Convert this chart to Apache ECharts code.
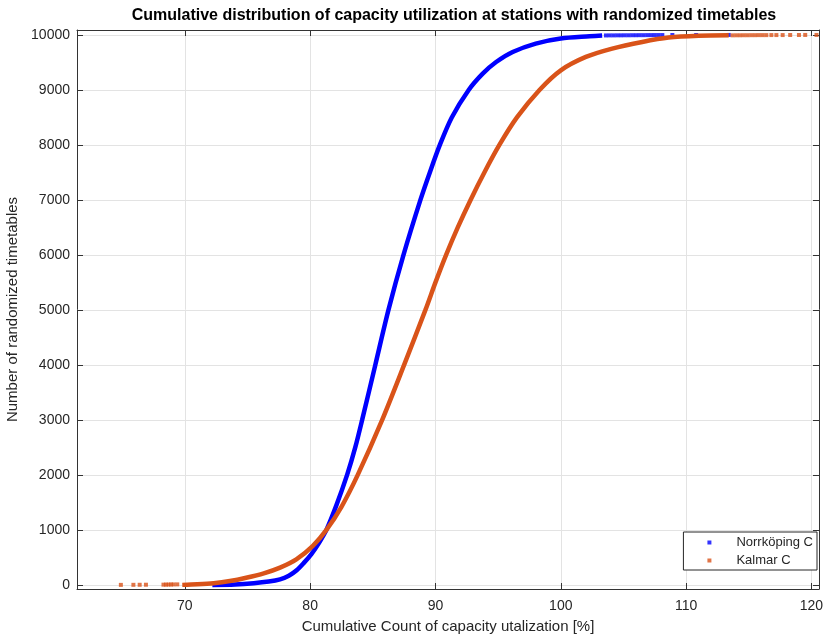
<!DOCTYPE html>
<html>
<head>
<meta charset="utf-8">
<script src="https://cdn.jsdelivr.net/npm/echarts@6/dist/echarts.min.js"></script>
<style>
    html, body { margin: 0; padding: 0; background: #fff; }
    #chart { width: 824px; height: 635px; }
</style>
</head>
<body>
<div id="chart"></div>
<script>
// Norrköping C - sorted utilization vs cumulative count
const norrX = [72.2, 74.0, 75.5, 76.7, 77.6, 78.3, 78.9, 79.5, 80.1, 80.7, 81.3, 82.1, 82.95, 83.6, 84.15, 85.2, 86.25, 87.45, 88.8, 89.55, 90.35, 91.3, 92.65, 93.77, 94.84, 96.16, 98.0, 100.0, 102.3, 103.3];
const norrY = [0, 8, 30, 60, 100, 165, 260, 400, 560, 760, 1000, 1450, 2000, 2500, 3000, 4000, 5000, 6000, 7000, 7500, 8000, 8500, 9000, 9297, 9508, 9690, 9843, 9934, 9975, 9990];
// sparse tail dots
const norrTailX = [103.6, 103.9, 104.2, 104.5, 104.8, 105.1, 105.4, 105.7, 106.0, 106.3, 106.6, 106.9, 107.2, 107.5, 107.8, 108.1, 108.9, 110.8, 113.4];
const norrTailY = [9991, 9992, 9992, 9993, 9993, 9994, 9994, 9995, 9995, 9996, 9996, 9997, 9997, 9998, 9998, 9998, 9999, 9999, 10000];

// Kalmar C
const kalX = [69.8, 71.0, 72.3, 73.6, 74.9, 76.3, 77.6, 78.9, 80.2, 81.3, 82.5, 83.8, 85.75, 87.5, 89.2, 90.0, 90.85, 91.78, 92.8, 93.9, 95.1, 96.5, 98.3, 100.0, 102.0, 104.1, 106.5, 108.6, 111.0, 113.4];
const kalY = [0, 10, 30, 70, 130, 210, 314, 465, 706, 1000, 1420, 2000, 3000, 4000, 5000, 5500, 6000, 6500, 7000, 7500, 8000, 8500, 9000, 9357, 9600, 9752, 9873, 9952, 9985, 9993];
const kalLowX = [64.9, 65.9, 66.4, 66.9, 68.3, 68.5, 68.7, 68.9, 69.1, 69.4];
const kalLowY = [0, 1, 2, 3, 4, 5, 6, 7, 8, 9];
const kalTailX = [113.7, 114.0, 114.3, 114.6, 114.9, 115.2, 115.5, 115.8, 116.1, 116.4, 116.8, 117.2, 117.7, 118.3, 119.0, 119.5, 120.4];
const kalTailY = [9993, 9994, 9994, 9995, 9995, 9996, 9996, 9997, 9997, 9997, 9998, 9998, 9998, 9999, 9999, 10000, 10000];

const xTicks = [70, 80, 90, 100, 110, 120];
const yTicks = [0, 1000, 2000, 3000, 4000, 5000, 6000, 7000, 8000, 9000, 10000];

const BLUE = '#0000ff';
const ORANGE = '#d95319';
const TXT = '#262626';
const FONT = '"Liberation Sans", Arial, sans-serif';

function pairs(xs, ys) {
    return xs.map((x, i) => [x, ys[i]]);
}

const chart = echarts.init(document.getElementById('chart'));

const xMin = 61.4, xMax = 120.6, yMin = -75, yMax = 10090;

const option = {
    animation: false,
    backgroundColor: '#fff',
    textStyle: { fontFamily: FONT },
    title: {
        text: 'Cumulative distribution of capacity utilization at stations with randomized timetables',
        left: 449,
        top: 3,
        textAlign: 'center',
        textStyle: { fontSize: 16, fontWeight: 'bold', color: '#000', fontFamily: FONT }
    },
    grid: { left: 77, right: 5, top: 30, bottom: 46, show: false, containLabel: false, outerBoundsMode: 'none' },
    legend: {
        data: ['Norrköping C', 'Kalmar C'],
        orient: 'vertical',
        right: 7,
        top: 532,
        icon: 'path://M0,0 L1,0 L1,1 L0,1 Z',
        symbolKeepAspect: true,
        itemWidth: 44,
        itemHeight: 4,
        itemGap: 5,
        padding: [4, 4, 3, 24],
        backgroundColor: '#fff',
        borderColor: TXT,
        borderWidth: 1,
        borderRadius: 0,
        textStyle: { fontSize: 13, color: TXT, fontFamily: FONT }
    },
    xAxis: [
        {
            type: 'value',
            min: xMin,
            max: xMax,
            splitNumber: 5,
            name: 'Cumulative Count of capacity utalization [%]',
            nameLocation: 'middle',
            nameGap: 30,
            nameTextStyle: { fontSize: 15, color: TXT, fontFamily: FONT },
            axisLine: { onZero: false, lineStyle: { color: '#333', width: 1 } },
            axisTick: { inside: true, length: 6, lineStyle: { color: '#333' } },
            axisLabel: {
                fontSize: 14, color: TXT, margin: 10, showMinLabel: false, showMaxLabel: false,
                formatter: v => xTicks.includes(v) ? String(v) : ''
            },
            splitLine: { show: true, lineStyle: { color: '#e3e3e3', width: 1 } }
        },
        {
            type: 'value',
            position: 'top',
            min: xMin,
            max: xMax,
            splitNumber: 5,
            axisLine: { onZero: false, lineStyle: { color: '#333', width: 1 } },
            axisTick: { inside: true, length: 6, lineStyle: { color: '#333' } },
            axisLabel: { show: false },
            splitLine: { show: false }
        }
    ],
    yAxis: [
        {
            type: 'value',
            min: yMin,
            max: yMax,
            splitNumber: 10,
            name: 'Number of randomized timetables',
            nameLocation: 'middle',
            nameGap: 47,
            nameTextStyle: { fontSize: 15, color: TXT, fontFamily: FONT },
            axisLine: { show: true, onZero: false, lineStyle: { color: '#333', width: 1 } },
            axisTick: { show: true, inside: true, length: 6, lineStyle: { color: '#333' } },
            axisLabel: {
                fontSize: 14, color: TXT, margin: 7, showMinLabel: false, showMaxLabel: false,
                formatter: v => yTicks.includes(v) ? String(v) : ''
            },
            splitLine: { show: true, lineStyle: { color: '#e3e3e3', width: 1 } }
        },
        {
            type: 'value',
            position: 'right',
            min: yMin,
            max: yMax,
            splitNumber: 10,
            axisLine: { show: true, onZero: false, lineStyle: { color: '#333', width: 1 } },
            axisTick: { show: true, inside: true, length: 6, lineStyle: { color: '#333' } },
            axisLabel: { show: false },
            splitLine: { show: false }
        }
    ],
    series: [
        {
            name: 'Norrköping C',
            type: 'scatter',
            symbol: 'rect',
            symbolSize: 4,
            itemStyle: { color: BLUE },
            data: pairs(norrTailX, norrTailY),
            z: 3
        },
        {
            name: 'Kalmar C',
            type: 'scatter',
            symbol: 'rect',
            symbolSize: 4,
            itemStyle: { color: ORANGE },
            data: pairs(kalLowX, kalLowY).concat(pairs(kalTailX, kalTailY)),
            z: 4
        },
        {
            name: 'Norrköping C line',
            type: 'line',
            smooth: 0.3,
            showSymbol: false,
            lineStyle: { color: BLUE, width: 4.5 },
            data: pairs(norrX, norrY),
            z: 3
        },
        {
            name: 'Kalmar C line',
            type: 'line',
            smooth: 0.3,
            showSymbol: false,
            lineStyle: { color: ORANGE, width: 4.5 },
            data: pairs(kalX, kalY),
            z: 4
        }
    ]
};

chart.setOption(option);
</script>
</body>
</html>
